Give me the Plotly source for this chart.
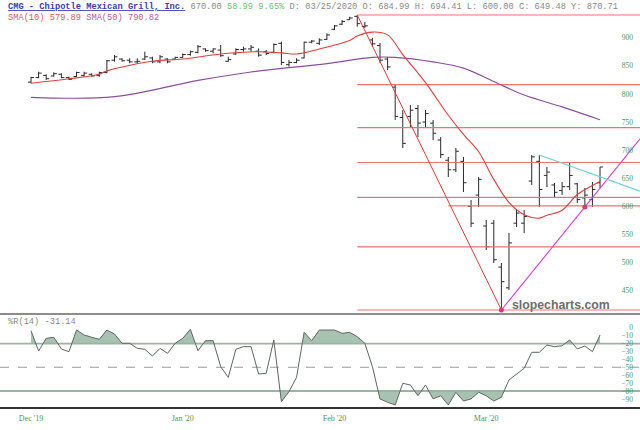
import plotly.graph_objects as go

# ---------------- data ----------------
bar_index = list(range(76))
opens = [821, 829, 833, 832, 835, 829, 831, 833, 835, 833,
         838, 860, 862, 860, 857, 862, 864, 857, 862, 862,
         865, 870, 874, 880, 876, 878, 858, 871, 879, 880,
         876, 875, 874, 890, 852, 856, 864, 892, 890, 897,
         915, 924, 932, 938, 920, 896, 886, 862, 812, 758,
         760, 774, 750, 748, 718, 682, 665, 680, 600, 620,
         565, 570, 492, 455, 570, 570, 645, 680, 655, 638,
         628, 635, 640, 615, 612, 642]
highs = [830.6, 839.5, 834.9, 838.5, 836.7, 830.6, 839.5, 839.5, 836.7, 839.5,
         860.3, 869.2, 863.4, 863.4, 863.4, 875.1, 866.2, 869.2, 863.4, 866.2,
         872.0, 877.0, 887.0, 881.1, 881.1, 887.0, 866.2, 881.1, 884.0, 887.0,
         881.1, 878.1, 890.0, 892.9, 860.3, 863.4, 892.9, 895.9, 898.9, 907.8,
         922.6, 931.5, 937.4, 940.4, 927.9, 899.5, 890.6, 865.7, 815.9, 771.4,
         780.3, 780.3, 771.4, 753.6, 723.4, 687.8, 703.8, 687.8, 611.3, 652.2,
         575.7, 575.7, 499.2, 552.6, 593.5, 593.5, 691.3, 691.3, 670.0, 641.5,
         643.3, 677.1, 641.5, 632.6, 643.3, 670.0]
lows = [818.9, 827.8, 824.8, 830.6, 827.8, 824.8, 830.6, 830.6, 830.6, 830.6,
        836.7, 857.3, 857.3, 854.5, 854.5, 860.3, 854.5, 854.5, 854.5, 860.3,
        864.0, 868.0, 872.2, 875.1, 872.2, 866.0, 857.3, 869.2, 875.1, 875.1,
        866.2, 869.2, 872.2, 851.4, 848.4, 854.5, 863.4, 890.0, 887.0, 895.9,
        913.7, 922.6, 931.5, 919.6, 917.3, 883.5, 855.0, 842.5, 753.6, 703.8,
        741.1, 723.4, 741.1, 718.0, 686.0, 652.2, 661.1, 625.5, 563.2, 598.8,
        522.3, 499.2, 415.6, 451.2, 563.2, 552.6, 638.0, 598.8, 634.4, 614.8,
        620.2, 629.1, 605.9, 598.8, 598.8, 632.6]
closes = [829, 837, 827, 836, 829, 826, 838, 837, 832, 838,
          859, 866, 859, 857, 858, 866, 857, 866, 857, 865,
          870, 875, 884, 877, 880, 868, 861, 879, 880, 883,
          869, 872, 888, 856, 856, 860, 892, 894, 896, 905,
          921, 929, 935, 925, 921, 889, 860, 848, 760, 712,
          771, 748, 765, 730, 692, 665, 698, 642, 570, 648,
          528, 505, 466, 535, 588, 582, 688, 630, 661, 625,
          635, 655, 612, 620, 630, 670]

sma10_x = [0, 5, 9, 10, 16, 20, 25, 30, 33, 35, 38, 42, 43, 45, 47, 49, 52,
           55, 57, 59, 61, 63, 65, 67, 68, 70, 72, 74, 75]
sma10_y = [819, 827, 835, 841, 858, 862, 871, 875, 873, 871, 880, 895, 903,
           910, 905, 870, 820, 762, 728, 697, 648, 607, 585, 579, 584, 593,
           621, 637, 644]
sma50_x = [0, 11, 22, 29, 39, 45, 48, 53, 57, 61, 65, 70, 75]
sma50_y = [794, 795, 824, 839, 854, 865, 865, 857, 846, 822, 798, 777, 754]

willr = [-3.7, -29.4, -13.3, -12.0, -26.8, -30.2, -2.8, -9.1, -12.0, -14.6,
         -2.8, -7.8, -19.6, -19.6, -26.0, -27.2, -35.7, -26.0, -32.3, -19.6,
         -13.3, -1.9, -29.0, -16.3, -16.3, -49.2, -62.7, -27.2, -23.9, -23.9,
         -58.5, -57.6, -15.4, -93.5, -80.9, -62.7, -5.7, -16.3, -2.8, -2.8,
         -2.8, -7.0, -5.7, -11.3, -19.6, -49.2, -90.0, -94.3, -97.7, -70.3,
         -72.4, -86.0, -72.4, -90.0, -86.0, -97.7, -81.6, -92.7, -90.0, -81.6,
         -86.0, -92.7, -88.0, -66.0, -58.5, -51.3, -31.0, -31.0, -21.8, -23.9,
         -22.7, -15.4, -26.8, -23.0, -30.2, -9.1]

month_ticks = [0, 20, 40, 60]
month_labels = ["Dec '19", "Jan '20", "Feb '20", "Mar '20"]
price_ticks = [450, 500, 550, 600, 650, 700, 750, 800, 850, 900]
willr_ticks = [0, -10, -20, -30, -40, -50, -60, -70, -80, -90]

fib_ratios = [0, 0.236, 0.382, 0.5, 0.618, 0.786, 1.0]
fib_start_bar = 43
trough_bar = 62
pivot_bar = 73
support_level = 601
support_start_bar = 55
cyan_x = [67, 80.27]
cyan_y = [691.3, 627.0]

# ---------------- layout constants ----------------
X_RANGE = [-4.09, 80.27]
Y1_RANGE = [408.5, 967.07]
Y2_RANGE = [-101.5, 17.5]
D1 = [0.2698, 1.0]
D2 = [0.0512, 0.2698]

GREEN = "#4f9a4f"
MONO = "Liberation Mono, Courier New, monospace"
SERIF = "Liberation Serif, Times New Roman, serif"

fig = go.Figure()

# Fibonacci retracement lines
hi = highs[fib_start_bar]
lo = lows[trough_bar]
for r in fib_ratios:
    lvl = hi - r * (hi - lo)
    fig.add_trace(go.Scatter(x=[fib_start_bar, X_RANGE[1]], y=[lvl, lvl], mode="lines",
                             line=dict(color="#ef7272", width=1.2), hoverinfo="skip",
                             xaxis="x", yaxis="y"))
fig.add_trace(go.Scatter(x=[support_start_bar, X_RANGE[1]], y=[support_level, support_level],
                         mode="lines", line=dict(color="#ef7272", width=1.2), hoverinfo="skip",
                         xaxis="x", yaxis="y"))

# SMA lines
fig.add_trace(go.Scatter(x=sma50_x, y=sma50_y, mode="lines", line_shape="spline",
                         line=dict(color="#8c4f9e", width=1.2), hoverinfo="skip",
                         xaxis="x", yaxis="y"))
fig.add_trace(go.Scatter(x=sma10_x, y=sma10_y, mode="lines", line_shape="spline",
                         line=dict(color="#e53e3e", width=1.1), hoverinfo="skip",
                         xaxis="x", yaxis="y"))

# down trend line (peak -> trough)
fig.add_trace(go.Scatter(x=[fib_start_bar, trough_bar], y=[hi, lo], mode="lines",
                         line=dict(color="#e33a3a", width=1), hoverinfo="skip",
                         xaxis="x", yaxis="y"))
# up trend line (trough -> pivot, extended)
slope = (lows[pivot_bar] - lo) / (pivot_bar - trough_bar)
fig.add_trace(go.Scatter(x=[trough_bar, X_RANGE[1]],
                         y=[lo, lo + slope * (X_RANGE[1] - trough_bar)], mode="lines",
                         line=dict(color="#d040d8", width=1.1), hoverinfo="skip",
                         xaxis="x", yaxis="y"))
# cyan line
fig.add_trace(go.Scatter(x=cyan_x, y=cyan_y, mode="lines",
                         line=dict(color="#66d4dc", width=1.1), hoverinfo="skip",
                         xaxis="x", yaxis="y"))

# OHLC bars
fig.add_trace(go.Ohlc(x=bar_index, open=opens, high=highs, low=lows, close=closes,
                      increasing=dict(line=dict(color="#2a2a2a", width=1)),
                      decreasing=dict(line=dict(color="#2a2a2a", width=1)),
                      tickwidth=0.4, hoverinfo="skip", xaxis="x", yaxis="y"))

# pivot dots
fig.add_trace(go.Scatter(x=[trough_bar, pivot_bar], y=[lows[trough_bar], lows[pivot_bar]],
                         mode="markers", marker=dict(color="#e8307a", size=5),
                         hoverinfo="skip", xaxis="x", yaxis="y"))


# ---------------- Williams %R panel ----------------
def clip_poly(xs, ys, level, above):
    px, py = [], []
    for k in range(len(xs)):
        if k > 0:
            y0, y1 = ys[k - 1], ys[k]
            if (y0 - level) * (y1 - level) < 0:
                t = (level - y0) / (y1 - y0)
                px.append(xs[k - 1] + t * (xs[k] - xs[k - 1]))
                py.append(level)
        px.append(xs[k])
        py.append(max(ys[k], level) if above else min(ys[k], level))
    return px, py


FILL = "#a8c2b2"
for level, above in [(-20, True), (-80, False)]:
    px, py = clip_poly(bar_index, willr, level, above)
    fig.add_trace(go.Scatter(x=px, y=[level] * len(px), mode="lines", line=dict(width=0),
                             hoverinfo="skip", xaxis="x2", yaxis="y2"))
    fig.add_trace(go.Scatter(x=px, y=py, mode="lines", line=dict(width=0), fill="tonexty",
                             fillcolor=FILL, hoverinfo="skip", xaxis="x2", yaxis="y2"))

for level, dash, col, w in [(-20, "solid", "#98b4a2", 1.8), (-80, "solid", "#98b4a2", 1.8),
                            (-50, "dash", "#9a9a9a", 1.1)]:
    fig.add_trace(go.Scatter(x=[X_RANGE[0], X_RANGE[1]], y=[level, level], mode="lines",
                             line=dict(color=col, width=w, dash=dash), hoverinfo="skip",
                             xaxis="x2", yaxis="y2"))

fig.add_trace(go.Scatter(x=bar_index, y=willr, mode="lines",
                         line=dict(color="#5d6a62", width=1), hoverinfo="skip",
                         xaxis="x2", yaxis="y2"))

# ---------------- layout ----------------
axis_common = dict(showgrid=False, zeroline=False, showline=False, ticks="")
fig.update_layout(
    width=640, height=430, margin=dict(l=0, r=0, t=0, b=0),
    paper_bgcolor="white", plot_bgcolor="white", showlegend=False,
    xaxis=dict(domain=[0, 1], range=X_RANGE, anchor="y", showticklabels=False,
               rangeslider=dict(visible=False), **axis_common),
    xaxis2=dict(domain=[0, 1], range=X_RANGE, anchor="y2", tickmode="array",
                tickvals=month_ticks, ticktext=month_labels,
                tickfont=dict(family=SERIF, size=8, color=GREEN), ticklabelstandoff=4,
                **axis_common),
    yaxis=dict(domain=D1, range=Y1_RANGE, anchor="x", side="right",
               ticklabelposition="inside", tickmode="array", tickvals=price_ticks,
               tickfont=dict(family=SERIF, size=7.5, color=GREEN), ticklabelstandoff=4,
               **axis_common),
    yaxis2=dict(domain=D2, range=Y2_RANGE, anchor="x2", side="right",
                ticklabelposition="inside", tickmode="array", tickvals=willr_ticks,
                tickfont=dict(family=SERIF, size=7.5, color=GREEN), ticklabelstandoff=4,
                **axis_common),
    shapes=[
        dict(type="line", xref="paper", yref="paper", x0=0, x1=1, y0=D1[0], y1=D1[0],
             line=dict(color="#666666", width=1.5)),
        dict(type="line", xref="paper", yref="paper", x0=0, x1=1, y0=D2[0], y1=D2[0],
             line=dict(color="#333333", width=2)),
    ],
)

header1 = ("<span style='color:#3b3bbd'><b><u>CMG - Chipotle Mexican Grill, Inc.</u></b></span>"
           " <span style='color:#8a8a8a'>670.00</span>"
           " <span style='color:#6cbf6c'>58.99 9.65%</span>"
           " <span style='color:#8a8a8a'>D: 03/25/2020 O: 684.99 H: 694.41 L: 600.00 "
           "C: 649.48 Y: 870.71</span>")
header2 = ("<span style='color:#e05a5a'>SMA(10) 579.89</span>"
           " <span style='color:#b65a9c'>SMA(50) 790.82</span>")

annots = [
    dict(text=header1, x=6 / 640, y=1 - 7 / 430),
    dict(text=header2, x=6 / 640, y=1 - 17.7 / 430),
    dict(text="<span style='color:#8a8a8a'>%R(14) -31.14</span>", x=6 / 640, y=1 - 321.7 / 430),
]
for a in annots:
    fig.add_annotation(xref="paper", yref="paper", xanchor="left", yanchor="middle",
                       showarrow=False, font=dict(family=MONO, size=8.7), **a)

fig.add_annotation(text="<b>slopecharts.com</b>", xref="paper", yref="paper",
                   x=510 / 640, y=1 - 305 / 430, xanchor="left", yanchor="middle",
                   showarrow=False,
                   font=dict(family="Liberation Sans, Arial, sans-serif", size=12.3,
                             color="#6e6e6e"))

fig.write_html("out.html")
